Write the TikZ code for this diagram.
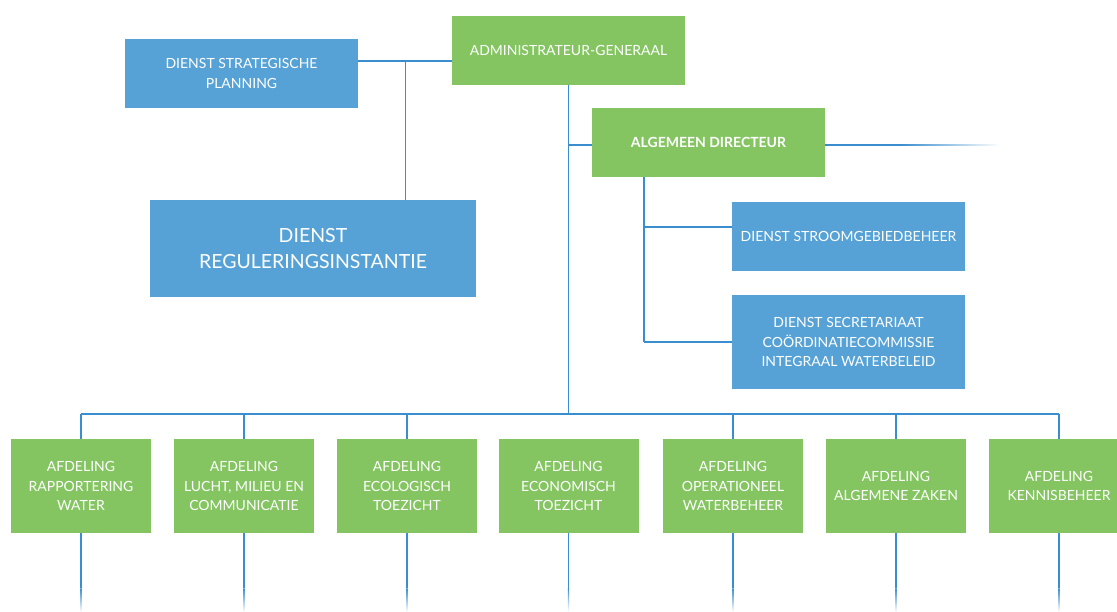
\documentclass[tikz,border=0pt]{standalone}
\usepackage{fontspec}
\setmainfont{Lato}
\definecolor{boxgreen}{RGB}{132,197,98}
\definecolor{boxblue}{RGB}{86,162,214}
\definecolor{linkblue}{RGB}{58,141,206}
\tikzset{
  orgbox/.style={rectangle, inner sep=0pt, text=white, align=center, font=\fontsize{14}{19.5}\selectfont},
  greenbox/.style={orgbox, fill=boxgreen},
  bluebox/.style={orgbox, fill=boxblue},
  link/.style={draw=linkblue, line width=1.1pt},
  topsize/.style={minimum width=233pt, minimum height=69pt},
  afd/.style={greenbox, minimum width=140pt, minimum height=94pt},
}
\begin{document}
\begin{tikzpicture}[x=1pt,y=-1pt]
\useasboundingbox (0,0) rectangle (1117,612);
\clip (0,0) rectangle (1117,612);
\fill[white] (0,0) rectangle (1117,612);

% top boxes
\node[bluebox, topsize] (dsp) at (241.5,73.5) {DIENST STRATEGISCHE\\PLANNING};
\node[greenbox, topsize] (adm) at (568.5,50.5) {ADMINISTRATEUR-GENERAAL};
\node[greenbox, topsize, font=\fontsize{14}{19.5}\selectfont\bfseries] (ad) at (708.5,142.5) {ALGEMEEN DIRECTEUR};
\node[bluebox, topsize] (dsg) at (848.5,236.5) {DIENST STROOMGEBIEDBEHEER};
\node[bluebox, minimum width=233pt, minimum height=94pt] (dsc) at (848.5,342) {DIENST SECRETARIAAT\\CO\"ORDINATIECOMMISSIE\\INTEGRAAL WATERBELEID};
\node[bluebox, minimum width=326pt, minimum height=97pt, font=\fontsize{19.5}{26}\selectfont] (dsr) at (313,248.5) {DIENST\\REGULERINGSINSTANTIE};

% bottom boxes
\node[afd] (b1) at (81,486) {AFDELING\\RAPPORTERING\\WATER};
\node[afd] (b2) at (244,486) {AFDELING\\LUCHT, MILIEU EN\\COMMUNICATIE};
\node[afd] (b3) at (407,486) {AFDELING\\ECOLOGISCH\\TOEZICHT};
\node[afd] (b4) at (568.5,486) {AFDELING\\ECONOMISCH\\TOEZICHT};
\node[afd] (b5) at (733,486) {AFDELING\\OPERATIONEEL\\WATERBEHEER};
\node[afd] (b6) at (896,486) {AFDELING\\ALGEMENE ZAKEN};
\node[afd] (b7) at (1059,486) {AFDELING\\KENNISBEHEER};

% junction coordinates
\coordinate (j1) at (405.5,61);
\coordinate (bus) at (0,414);
\coordinate (adj) at (0,145);
\coordinate (k) at (644,0);
\coordinate (fadeR) at (900,145);
\coordinate (endR) at (1000,145);

% connectors
\draw[link] (dsp.east |- j1) -- (adm.west |- j1);
\draw[link] (j1) -- (dsr.north -| j1);
\draw[link] (adm.south) -- (adm.south |- bus);
\draw[link] (adm.south |- adj) -- (ad.west |- adj);
\draw[link] (ad.east |- adj) -- (fadeR);
\shade[left color=linkblue, right color=white] ([yshift=-0.55pt]fadeR) rectangle ([yshift=0.55pt]endR);
\draw[link] (ad.south -| k) -- (k |- dsc.west);
\draw[link] (k |- 0,227) -- (dsg.west |- 0,227);
\draw[link] (k |- dsc.west) -- (dsc.west);
\draw[link] (b1.north |- bus) -- (b7.north |- bus);
\foreach \b in {b1,b2,b3,b5,b6,b7}{
  \draw[link] (\b.north |- bus) -- (\b.north);
}
\foreach \b in {b1,b2,b3,b4,b5,b6,b7}{
  \coordinate (\b-f) at (\b.south |- 0,588);
  \coordinate (\b-e) at (\b.south |- 0,612);
  \draw[link] (\b.south) -- (\b-f);
  \shade[top color=linkblue, bottom color=white] ([xshift=-0.55pt]\b-f) rectangle ([xshift=0.55pt]\b-e);
}
\end{tikzpicture}
\end{document}
